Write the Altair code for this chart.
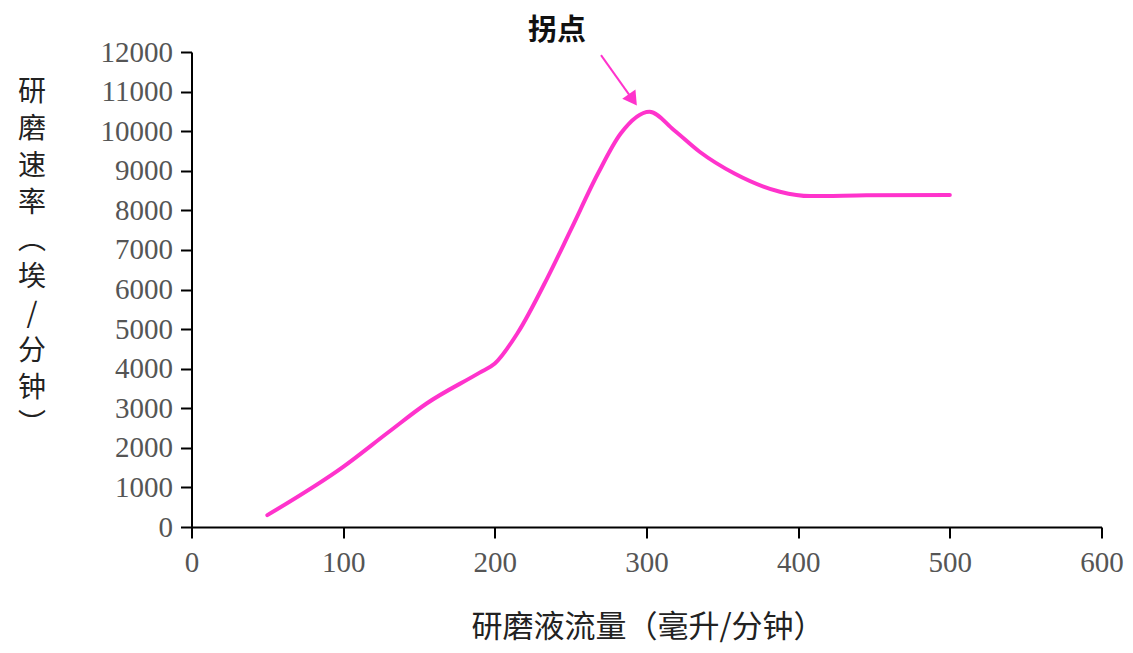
import altair as alt
import pandas as pd

# Curve data
flow = [50, 100, 130, 155, 190, 200, 215, 235, 250, 268, 283, 302, 318, 335, 358, 388, 408, 445, 500]
rate = [300, 1520, 2400, 3120, 3900, 4130, 4900, 6320, 7500, 8930, 9940, 10490, 10030, 9480, 8930, 8470, 8360, 8380, 8390]

# Annotation
arrow_x = [270]
arrow_y = [11920]
arrow_x2 = [291]
arrow_y2 = [10790]
label_x = [241]
label_y = [12540]
label_text = ["拐点"]

x_ticks = [0, 100, 200, 300, 400, 500, 600]
y_ticks = list(range(0, 12001, 1000))

df = pd.DataFrame({"flow": flow, "rate": rate})
arrow_df = pd.DataFrame({"x": arrow_x, "y": arrow_y, "x2": arrow_x2, "y2": arrow_y2})
label_df = pd.DataFrame({"x": label_x, "y": label_y, "t": label_text})

PINK = "#FF33CC"

x_scale = alt.Scale(domain=[0, 600], nice=False, zero=False)
y_scale = alt.Scale(domain=[0, 12000], nice=False)

y_title = ["研", "磨", "速", "率", "︵", "埃", "/", "分", "钟", "︶"]

line = alt.Chart(df).mark_line(
    color=PINK, strokeWidth=4, interpolate="monotone", strokeCap="round"
).encode(
    x=alt.X("flow:Q", scale=x_scale,
            axis=alt.Axis(values=x_ticks, tickCount=len(x_ticks), format="d",
                          title="研磨液流量（毫升/分钟）",
                          labelOverlap=False, labelFlush=False,
                          titleFontSize=31,
                          titleX=456, titleY=100, titleAlign="center", titleBaseline="middle")),
    y=alt.Y("rate:Q", scale=y_scale,
            axis=alt.Axis(values=y_ticks, tickCount=len(y_ticks), format="d", title=y_title,
                          labelOverlap=False, labelFlush=False,
                          titleFontSize=28,
                          titleAngle=0, titleX=-160, titleY=26, titleAlign="center",
                          titleBaseline="top", titleLineHeight=37)),
)

arrow = alt.Chart(arrow_df).mark_rule(color=PINK, strokeWidth=2).encode(
    x=alt.X("x:Q", scale=x_scale), y=alt.Y("y:Q", scale=y_scale),
    x2="x2:Q", y2="y2:Q",
)

head = alt.Chart(arrow_df).mark_point(
    shape="triangle-up", filled=True, color=PINK, opacity=1, size=260, angle=145
).encode(
    x=alt.X("x2:Q", scale=x_scale), y=alt.Y("y2:Q", scale=y_scale),
)

label = alt.Chart(label_df).mark_text(
    font="Noto Sans CJK SC", fontSize=29, fontWeight="bold", color="#111111",
    align="center", baseline="middle", clip=False
).encode(
    x=alt.X("x:Q", scale=x_scale), y=alt.Y("y:Q", scale=y_scale), text="t:N",
)

chart = alt.layer(line, arrow, head, label).properties(
    width=910, height=475,
    autosize=alt.AutoSizeParams(type="none"),
    padding={"left": 183.5, "top": 44, "right": 23, "bottom": 118},
).configure_view(stroke=None).configure_axis(
    grid=False,
    domainColor="#000000", domainWidth=2,
    tickColor="#000000", tickWidth=2, tickSize=11,
    labelFont="Liberation Serif", labelFontSize=29, labelColor="#555555",
    titleFont="Noto Sans CJK SC", titleFontWeight="normal",
    titleColor="#222222",
).configure_axisY(labelPadding=8).configure_axisX(labelPadding=10)

chart.save("out.html", embed_options={"renderer": "svg", "actions": False})
